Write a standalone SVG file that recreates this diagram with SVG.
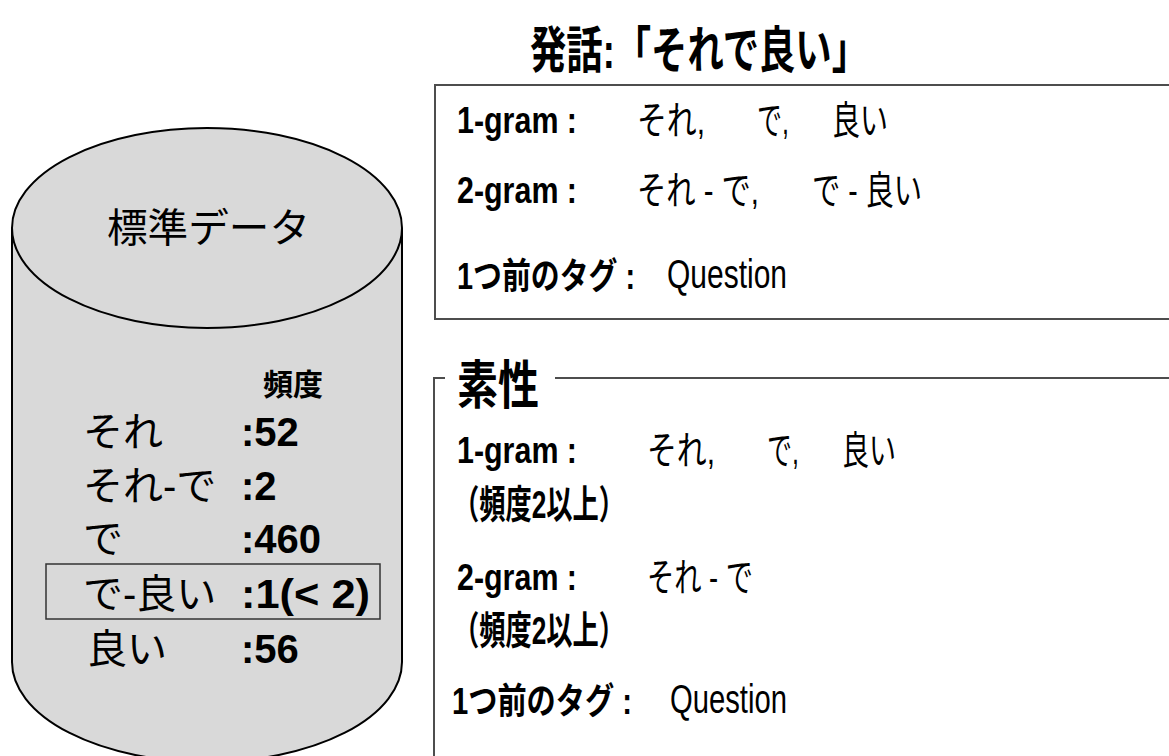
<svg xmlns="http://www.w3.org/2000/svg" width="1169" height="756" viewBox="0 0 1169 756">
<style>
text{font-family:"Liberation Sans","Noto Sans CJK JP",sans-serif;fill:#000}
.b{font-weight:bold}
.cyl{fill:#d9d9d9;stroke:#000;stroke-width:2}
.box{fill:none;stroke:#4d4d4d;stroke-width:2}
.lab{font-size:36px;font-weight:bold}
.jp{font-size:39px}
.q{font-size:40px}
.cnt{font-size:40px}
</style>
<rect width="1169" height="756" fill="#fff"/>
<g id="database">
<path class="cyl" d="M12,228 A195,100 0 0,1 402,228 L402,662 A195,100 0 0,1 12,662 Z"/>
<path d="M12,228 A195,100 0 0,0 402,228" fill="none" stroke="#000" stroke-width="2"/>
<text x="107" y="242" font-size="40" textLength="203" lengthAdjust="spacingAndGlyphs">標準データ</text>
<text x="263" y="395" font-size="30" class="b">頻度</text>
<text x="83" y="446" class="cnt">それ</text>
<text x="241" y="446" class="cnt b">:52</text>
<text x="83" y="500" class="cnt">それ-で</text>
<text x="241" y="500" class="cnt b">:2</text>
<text x="83" y="553" class="cnt">で</text>
<text x="241" y="553" class="cnt b">:460</text>
<rect x="46" y="564" width="334" height="55" fill="none" stroke="#333" stroke-width="1.5"/>
<text x="83" y="608" class="cnt">で-良い</text>
<text x="241" y="608" class="cnt b" textLength="129" lengthAdjust="spacingAndGlyphs">:1(&lt; 2)</text>
<text x="87" y="663" class="cnt">良い</text>
<text x="241" y="663" class="cnt b">:56</text>
</g>
<g id="utterance">
<text x="530" y="68" font-size="50" class="b" textLength="338" lengthAdjust="spacingAndGlyphs">発話:「それで良い」</text>
<rect class="box" x="435" y="85" width="800" height="234"/>
<text x="457" y="133" class="lab" textLength="120" lengthAdjust="spacingAndGlyphs">1-gram :</text>
<text x="637" y="134" class="jp" textLength="68" lengthAdjust="spacingAndGlyphs">それ,</text>
<text x="757" y="134" class="jp" textLength="32" lengthAdjust="spacingAndGlyphs">で,</text>
<text x="832" y="134" class="jp" textLength="56" lengthAdjust="spacingAndGlyphs">良い</text>
<text x="457" y="203" class="lab" textLength="120" lengthAdjust="spacingAndGlyphs">2-gram :</text>
<text x="637" y="204" class="jp" textLength="122" lengthAdjust="spacingAndGlyphs">それ - で,</text>
<text x="812" y="204" class="jp" textLength="110" lengthAdjust="spacingAndGlyphs">で - 良い</text>
<text x="457" y="289" class="lab" textLength="178" lengthAdjust="spacingAndGlyphs">1つ前のタグ :</text>
<text x="667" y="288" class="q" textLength="120" lengthAdjust="spacingAndGlyphs">Question</text>
</g>
<g id="features">
<rect class="box" x="434" y="378" width="800" height="420"/>
<rect x="445" y="335" width="110" height="80" fill="#fff"/>
<text x="457" y="404" font-size="52" class="b" textLength="82" lengthAdjust="spacingAndGlyphs">素性</text>
<text x="457" y="463" class="lab" textLength="120" lengthAdjust="spacingAndGlyphs">1-gram :</text>
<text x="647" y="464" class="jp" textLength="68" lengthAdjust="spacingAndGlyphs">それ,</text>
<text x="767" y="464" class="jp" textLength="32" lengthAdjust="spacingAndGlyphs">で,</text>
<text x="842" y="464" class="jp" textLength="54" lengthAdjust="spacingAndGlyphs">良い</text>
<text x="453" y="518" class="jp b" textLength="172" lengthAdjust="spacingAndGlyphs">（頻度2以上）</text>
<text x="457" y="590" class="lab" textLength="120" lengthAdjust="spacingAndGlyphs">2-gram :</text>
<text x="647" y="591" class="jp" textLength="106" lengthAdjust="spacingAndGlyphs">それ - で</text>
<text x="453" y="644" class="jp b" textLength="172" lengthAdjust="spacingAndGlyphs">（頻度2以上）</text>
<text x="452" y="714" class="lab" textLength="180" lengthAdjust="spacingAndGlyphs">1つ前のタグ :</text>
<text x="670" y="713" class="q" textLength="117" lengthAdjust="spacingAndGlyphs">Question</text>
</g>
<g id="connectors"></g>
</svg>
